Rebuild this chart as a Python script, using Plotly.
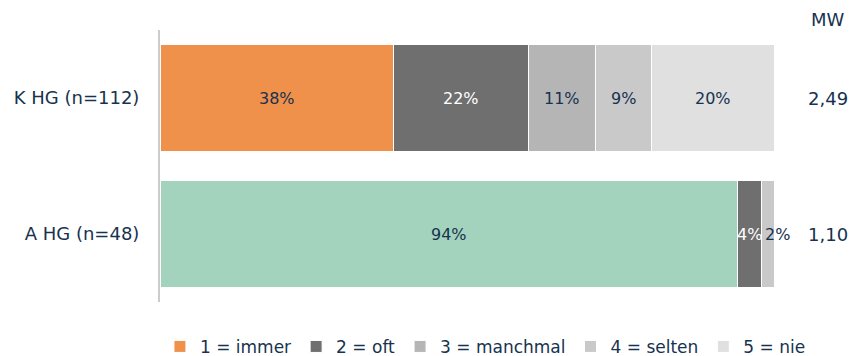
import plotly.graph_objects as go

groups = ["K HG (n=112)", "A HG (n=48)"]
categories = ["1 = immer", "2 = oft", "3 = manchmal", "4 = selten", "5 = nie"]
values = {
    "1 = immer": [38, 94],
    "2 = oft": [22, 4],
    "3 = manchmal": [11, 0],
    "4 = selten": [9, 2],
    "5 = nie": [20, 0],
}
mw = [2.49, 1.10]

NAVY = "#17324f"
COLORS = {
    "1 = immer": ["#f0914b", "#a3d3bd"],
    "2 = oft": ["#6f6f6f", "#6f6f6f"],
    "3 = manchmal": ["#b5b5b5", "#b5b5b5"],
    "4 = selten": ["#c9c9c9", "#c9c9c9"],
    "5 = nie": ["#e0e0e0", "#e0e0e0"],
}
LABEL_COLORS = {"2 = oft": "white"}
FONT = "DejaVu Sans"

fig = go.Figure()
for cat in categories:
    fig.add_trace(go.Bar(
        y=groups, x=values[cat], name=cat, orientation="h",
        marker=dict(color=COLORS[cat], line=dict(color="white", width=1)),
        hoverinfo="skip",
    ))

# segment labels
annotations = []
start = [0, 0]
for cat in categories:
    for i, g in enumerate(groups):
        v = values[cat][i]
        if v:
            shift = 10 if v < 3 else 0
            annotations.append(dict(
                x=start[i] + v / 2, y=g, xref="x", yref="y", text=f"{v}%",
                showarrow=False, xshift=shift, xanchor="center",
                font=dict(size=16, color=LABEL_COLORS.get(cat, NAVY), family=FONT),
            ))
        start[i] += v

# MW column
annotations.append(dict(x=1.088, y=1.04, xref="paper", yref="paper", text="MW",
                        xanchor="center", yanchor="middle", showarrow=False,
                        font=dict(size=18, color=NAVY, family=FONT)))
for g, m in zip(groups, mw):
    annotations.append(dict(x=1.088, y=g, xref="paper", yref="y",
                            text=f"{m:.2f}".replace(".", ","), showarrow=False,
                            xanchor="center", yanchor="middle",
                            font=dict(size=18, color=NAVY, family=FONT)))

# the page body adds an 8px offset, margins compensate for it
fig.update_layout(
    barmode="stack",
    bargap=0.22,
    width=856, height=356,
    margin=dict(l=152, r=90, t=22, b=62, autoexpand=False),
    plot_bgcolor="white", paper_bgcolor="white",
    font=dict(family=FONT, size=18, color=NAVY),
    xaxis=dict(range=[0, 100], visible=False),
    yaxis=dict(autorange="reversed", showline=True, linecolor="#cccccc", linewidth=2,
               ticks="", ticklabelstandoff=15, automargin=False,
               tickfont=dict(size=18, color=NAVY)),
    legend=dict(orientation="h", x=-0.0001, xanchor="left", y=-0.165, yanchor="middle",
                font=dict(size=17, color=NAVY), itemwidth=30, traceorder="normal",
                borderwidth=0, bgcolor="rgba(0,0,0,0)"),
    annotations=annotations,
)

fig.write_html("out.html")
